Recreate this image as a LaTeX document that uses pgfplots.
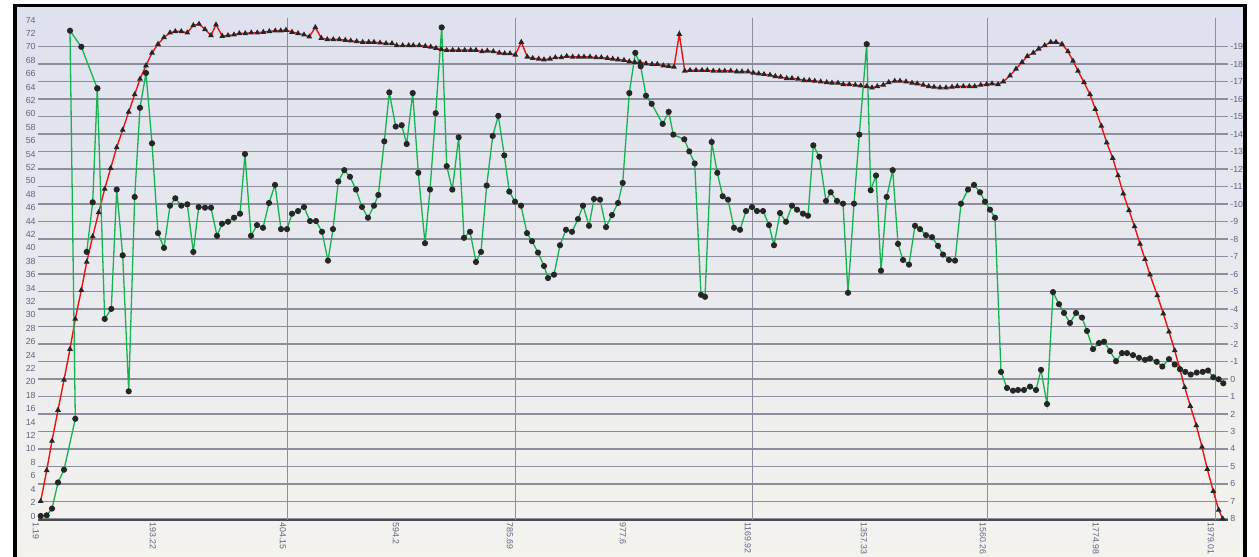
\documentclass[border=0pt]{standalone}
\usepackage{fontspec}
\setmainfont{Liberation Sans}
\usepackage{pgfplots}
\pgfplotsset{compat=1.18}
\definecolor{lblc}{RGB}{95,100,130}
\definecolor{gridc}{RGB}{140,143,155}
\definecolor{grn}{RGB}{20,180,80}
\definecolor{rd}{RGB}{235,20,20}
\definecolor{bgtop}{RGB}{222,225,238}
\definecolor{bgbot}{RGB}{244,243,238}
\pgfplotsset{
  common/.style={
    scale only axis, width=595pt, height=251pt,
    at={(19pt,-260pt)}, anchor=south west,
    xmin=38, xmax=1228,
    tick style={draw=none},
    ticklabel style={font=\fontsize{4.4}{5}\selectfont, text=lblc},
    /pgf/number format/assume math mode=true,
  }
}
\begin{document}
\begin{tikzpicture}
\useasboundingbox (0,0) rectangle (629.5pt,-278.5pt);
\fill[white] (0,0) rectangle (629.5pt,-278.5pt);
\shade[top color=bgtop,bottom color=bgbot] (7.5pt,-2.5pt) rectangle (622.5pt,-278.5pt);
% right axis: grid + labels
\begin{axis}[common,
  ymin=-20.63, ymax=8.06, y dir=reverse,
  axis y line*=right, axis x line=none,
  y axis line style={draw=none},
  ytick={-19,-18,...,8},
  ymajorgrids, major grid style={gridc, line width=0.55pt},
  yticklabel style={inner sep=1pt, xshift=0pt},
]
\addplot[draw=none] coordinates {(40,0)};
\end{axis}
% left axis with data
\begin{axis}[common,
  ymin=-0.6, ymax=74.3,
  axis x line*=bottom, axis y line*=left,
  x axis line style={gray!60!black, line width=0.9pt},
  y axis line style={draw=none},
  ytick={0,2,...,74},
  yticklabel style={inner sep=1pt},
  xtick={40,157,287,400,514,627,752,868,987,1100,1215},
  xticklabels={1.19,193.22,404.15,594.2,785.69,977.6,1169.92,1357.33,1560.26,1774.98,1979.01},
  xticklabel style={rotate=-90, anchor=west, inner sep=1pt, yshift=-2pt},
  extra x ticks={287,515,752,987,1215},
  extra x tick labels={},
  extra x tick style={grid=major, major grid style={gridc, line width=0.5pt}},
  clip=false,
]
\addplot[rd, line width=0.7pt, mark=triangle*, mark size=1.0pt,
  mark options={fill=black!85, draw=black!85}] coordinates {
(40.7,2.2)(46.7,6.8)(52,11.2)(58,15.8)(64,20.3)(70,24.9)(75.3,29.4)(81.3,33.7)
(86.7,37.9)(92.7,41.7)(98.7,45.3)(104.7,48.8)(110.7,51.9)(116.7,55.0)(122.7,57.6)
(128.7,60.3)(134.7,62.9)(140,65.2)(146,67.2)(152,69.1)(158,70.4)(164,71.4)(170,72.1)
(175.3,72.3)(181.3,72.3)(187.3,72.1)(193.3,73.2)(199,73.4)(205,72.6)(211,71.7)
(216,73.3)(222.3,71.6)(228,71.7)(234,71.8)(239.3,72.0)(245.3,72.0)(251.3,72.1)
(257.3,72.1)(263.3,72.2)(269.3,72.3)(275.3,72.4)(280.7,72.4)(286,72.5)(292,72.2)
(298,72.0)(304,71.8)(309.3,71.5)(315.3,72.9)(321.3,71.3)(327.3,71.1)(333.3,71.1)
(339.3,71.1)(345.3,71.0)(350.7,70.9)(356.7,70.8)(362.7,70.7)(368.7,70.7)(374,70.7)
(380,70.6)(386,70.5)(392,70.5)(396.7,70.2)(402.7,70.2)(408.7,70.2)(413.3,70.2)
(419.3,70.2)(425.3,70.1)(430.7,70.0)(436,69.8)(441.3,69.6)(446.7,69.5)(452.7,69.5)
(458.7,69.5)(464.7,69.5)(470.7,69.5)(476,69.5)(482,69.3)(487.3,69.4)(493.3,69.3)
(499.3,69.1)(504.7,69.0)(510,69.0)(515.3,68.8)(521.3,70.7)(527.3,68.5)(532.7,68.3)
(538.7,68.2)(544,68.1)(550,68.2)(555.3,68.4)(561.3,68.4)(566.7,68.6)(572.7,68.5)
(578.7,68.5)(584,68.5)(590,68.5)(596,68.4)(601.3,68.4)(607.3,68.3)(612.7,68.2)
(618,68.1)(624,68.0)(629.3,67.8)(634.7,67.7)(640,67.7)(646,67.5)(652,67.4)
(657.3,67.4)(663.3,67.2)(668.7,67.1)(674,67.0)(679.3,71.9)(684.7,66.4)(690,66.5)
(696,66.5)(702,66.5)(707.3,66.5)(713.3,66.4)(719.3,66.4)(724.7,66.4)(730.7,66.4)
(736.7,66.3)(742,66.3)(748,66.3)(753.3,66.1)(758.7,66.0)(764,65.9)(770,65.8)
(775.3,65.6)(780.7,65.5)(786.7,65.3)(792,65.3)(798,65.2)(804,65.0)(809.3,65.0)
(814.7,64.9)(820.7,64.8)(826.7,64.7)(832,64.6)(838,64.6)(843.3,64.4)(849.3,64.4)
(855.3,64.3)(860.7,64.2)(866.7,64.1)(872,63.9)(877.3,64.1)(883.3,64.3)(888.7,64.7)
(894.7,64.9)(900,64.9)(906,64.8)(912,64.6)(917.3,64.5)(923.3,64.3)(928.7,64.1)
(934,64.0)(940,63.9)(946,63.9)(952,64.0)(957.3,64.1)(963.3,64.1)(969.3,64.1)
(974.7,64.1)(980.7,64.3)(986.7,64.4)(992,64.5)(998,64.4)(1003.3,64.8)(1010,65.7)
(1016,66.7)(1022,67.7)(1027.3,68.6)(1033.3,69.1)(1038.7,69.7)(1044.7,70.2)
(1050.7,70.7)(1056,70.7)(1062,70.4)(1068,69.3)(1073,67.9)(1078,66.4)(1084,64.7)
(1090,62.9)(1095.3,60.7)(1101.3,58.2)(1106.7,55.7)(1112.7,53.4)(1118,50.8)
(1123.3,48.1)(1129,45.6)(1134.5,43.2)(1140,40.6)(1145,38.3)(1150,36.0)(1157.3,32.9)
(1163.3,30.2)(1169,27.5)(1174.7,24.7)(1179.7,22.0)(1184.7,19.2)(1190.3,16.4)
(1196.3,13.5)(1202,10.3)(1207.3,7.0)(1213.3,3.7)(1218.7,0.9)(1222.7,-0.4)
};
\addplot[grn, line width=0.65pt, mark=*, mark size=1.2pt,
  mark options={fill=black!85, draw=black!85}] coordinates {
(40.7,0)(46.7,0.1)(52,1.1)(58,5.0)(64,6.9)(75.3,14.5)(70,72.4)(81.3,70.0)(97.3,63.8)
(104.7,29.4)(111.3,30.9)(116.7,48.7)(122.7,38.9)(128.7,18.6)(134.7,47.6)(140,60.9)
(146,66.1)(152,55.6)(158,42.2)(164,40.0)(170,46.3)(175.3,47.4)(181.3,46.3)(187.3,46.5)
(193.3,39.4)(198.7,46.1)(205,46.0)(211,46.0)(217,41.8)(222,43.6)(228,43.9)(234,44.5)
(240,45.1)(245,54.0)(251,41.8)(257,43.4)(263,43.0)(269,46.7)(275,49.4)(281,42.8)
(287,42.8)(292,45.1)(298,45.5)(304,46.1)(310,44.0)(316,44.0)(322,42.4)(328,38.1)
(333,42.8)(338.3,49.9)(344.3,51.6)(350,50.6)(356,48.7)(362,46.1)(368,44.5)(374,46.3)
(378.3,47.9)(384.3,55.9)(389.3,63.2)(395.7,58.1)(401.7,58.3)(406.7,55.5)(412.7,63.1)
(418.3,51.2)(425,40.7)(430,48.7)(435.7,60.1)(441.7,72.9)(446.7,52.2)(452.3,48.7)
(458.7,56.5)(464,41.5)(470,42.4)(476,37.9)(481,39.4)(486.7,49.3)(492.7,56.7)
(498.3,59.7)(504.3,53.8)(509.3,48.4)(515,46.9)(521,46.3)(527,42.2)(532,41.0)
(538,39.3)(544,37.3)(548,35.5)(554,36.0)(560,40.4)(566,42.7)(572,42.4)(578,44.3)
(583,46.3)(589,43.3)(594,47.3)(600,47.2)(606,43.1)(612,44.9)(618,46.7)(622.7,49.7)
(629.3,63.1)(635.3,69.1)(640.7,67.1)(646,62.7)(651.7,61.5)(662.7,58.5)(668.7,60.3)
(673.3,56.9)(684.3,56.2)(689.3,54.4)(694.7,52.6)(701,33.0)(705,32.7)(711.7,55.8)
(717.3,51.2)(722.7,47.7)(728,47.2)(734,43.0)(740,42.7)(746,45.5)(752,46.1)(757,45.5)
(763,45.5)(769,43.4)(774,40.4)(780,45.2)(786,43.9)(792,46.3)(797,45.7)(803,45.1)
(808,44.8)(813.3,55.3)(819.3,53.6)(826,47.0)(830.7,48.3)(837,47.0)(843,46.6)
(848,33.3)(854,46.6)(859.3,56.9)(866.7,70.4)(870.7,48.6)(876,50.8)(881,36.6)
(886.7,47.6)(892.7,51.6)(898,40.6)(903,38.2)(909,37.5)(915,43.3)(920,42.8)(926,41.9)
(932,41.6)(938,40.3)(943,39.0)(949,38.2)(955,38.1)(961,46.6)(968,48.7)(974,49.4)
(980,48.3)(985,46.9)(990,45.7)(995,44.5)(1001,21.5)(1007,19.1)(1013,18.7)(1018,18.8)
(1024,18.8)(1030,19.3)(1036,18.8)(1041,21.8)(1047,16.7)(1053,33.4)(1059,31.6)
(1064,30.3)(1070,28.8)(1076,30.3)(1082,29.6)(1087,27.6)(1093,24.9)(1099,25.8)
(1104,26.0)(1110,24.6)(1116,23.1)(1122,24.3)(1127,24.3)(1133,24.0)(1139,23.6)
(1145,23.3)(1150,23.5)(1156.7,23.0)(1162.3,22.3)(1169,23.4)(1174.7,22.6)(1180,21.9)
(1185.3,21.5)(1190.7,21.1)(1196.7,21.4)(1202.7,21.5)(1208,21.7)(1213.3,20.7)
(1218.7,20.4)(1223.3,19.8)
};
\addplot[grn, line width=0.65pt, mark=*, mark size=1.2pt,
  mark options={fill=black!85, draw=black!85}] coordinates {
(86.7,39.4)(92.7,46.8)(97.3,63.8)
};
\end{axis}
% screen bezel
\draw[black, line width=1.8pt] (7.5pt,-278.5pt) -- (7.5pt,-2.75pt) -- (622.5pt,-2.75pt) -- (622.5pt,-278.5pt);
\end{tikzpicture}
\end{document}
